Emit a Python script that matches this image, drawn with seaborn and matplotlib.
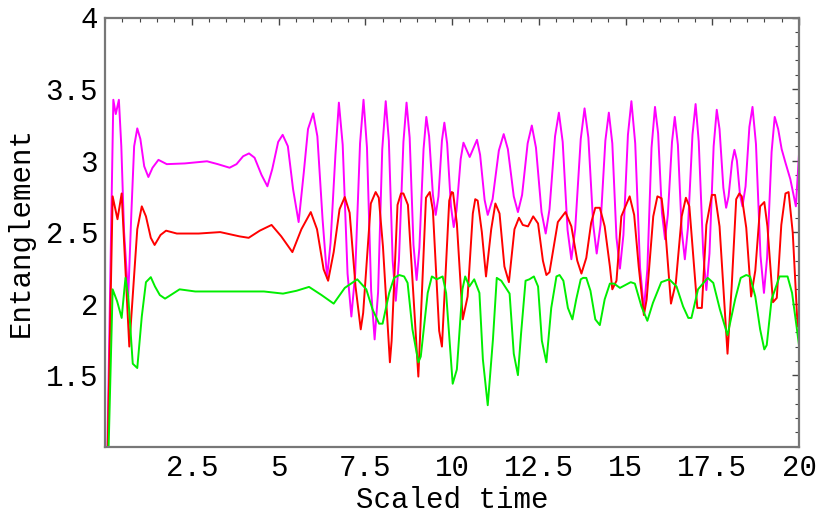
import matplotlib
matplotlib.use("Agg")
import matplotlib.pyplot as plt
from matplotlib.ticker import FixedLocator, MultipleLocator, FuncFormatter
import pandas as pd
import seaborn as sns

# values (scaled time, entanglement)
magenta_t = [0.0, 0.24, 0.31, 0.40, 0.47, 0.55, 0.67, 0.76, 0.84, 0.93, 1.02, 1.13,
             1.25, 1.37, 1.54, 1.78, 2.30, 2.94, 3.25, 3.59, 3.79, 3.98, 4.15, 4.31,
             4.51, 4.68, 4.82, 4.99, 5.12, 5.27, 5.42, 5.58, 5.73, 5.85, 6.00, 6.12,
             6.27, 6.40, 6.50, 6.64, 6.74, 6.85, 6.99, 7.10, 7.21, 7.35, 7.45, 7.55,
             7.67, 7.77, 7.87, 7.99, 8.09, 8.18, 8.29, 8.38, 8.47, 8.60, 8.69, 8.78,
             8.89, 8.98, 9.06, 9.18, 9.26, 9.34, 9.45, 9.53, 9.61, 9.71, 9.78, 9.86,
             9.97, 10.05, 10.13, 10.25, 10.33, 10.51, 10.72, 10.81, 10.94, 11.03, 11.17,
             11.35, 11.49, 11.61, 11.78, 11.90, 12.02, 12.18, 12.30, 12.42, 12.58,
             12.70, 12.81, 12.97, 13.08, 13.19, 13.33, 13.44, 13.55, 13.71, 13.82,
             13.93, 14.07, 14.17, 14.28, 14.42, 14.52, 14.62, 14.74, 14.84, 14.94,
             15.07, 15.17, 15.28, 15.42, 15.53, 15.63, 15.75, 15.85, 15.94, 16.05,
             16.14, 16.22, 16.34, 16.42, 16.51, 16.62, 16.71, 16.80, 16.93, 17.02,
             17.11, 17.24, 17.33, 17.42, 17.54, 17.63, 17.71, 17.82, 17.90, 17.97,
             18.07, 18.14, 18.21, 18.30, 18.37, 18.46, 18.57, 18.66, 18.76, 18.89,
             18.99, 19.08, 19.21, 19.30, 19.40, 19.50, 19.61, 19.75, 19.91, 20.0]
magenta_v = [0.0, 3.425, 3.325, 3.425, 3.10, 2.50, 2.05, 2.636, 3.10, 3.225, 3.15, 2.96,
             2.885, 2.95, 3.005, 2.975, 2.98, 2.995, 2.975, 2.95, 2.975, 3.03, 3.05, 3.02,
             2.90, 2.82, 2.94, 3.13, 3.18, 3.10, 2.80, 2.57, 2.92, 3.22, 3.33, 3.17,
             2.59, 2.18, 2.425, 3.04, 3.405, 3.11, 2.21, 1.91, 2.21, 3.12, 3.425, 3.09,
             2.09, 1.75, 2.08, 3.08, 3.415, 3.14, 2.30, 2.02, 2.30, 3.13, 3.405, 3.16,
             2.41, 2.165, 2.39, 3.08, 3.305, 3.17, 2.76, 2.62, 2.75, 3.14, 3.265, 3.12,
             2.68, 2.535, 2.65, 3.01, 3.125, 3.025, 3.145, 3.04, 2.725, 2.62, 2.73,
             3.07, 3.185, 3.08, 2.75, 2.64, 2.76, 3.12, 3.245, 3.09, 2.64,
             2.49, 2.66, 3.17, 3.335, 3.13, 2.515, 2.31, 2.52, 3.15, 3.365,
             3.16, 2.55, 2.35, 2.55, 3.14, 3.335, 3.12, 2.46, 2.245, 2.48,
             3.18, 3.415, 3.12, 2.25, 1.96, 2.24, 3.09, 3.375, 3.19, 2.635,
             2.45, 2.62, 3.13, 3.305, 3.11, 2.51, 2.31, 2.53, 3.18, 3.395,
             3.135, 2.355, 2.095, 2.35, 3.10, 3.355, 3.22, 2.81, 2.67, 2.75,
             2.99, 3.075, 3.00, 2.76, 2.68, 2.82, 3.235, 3.375, 3.115, 2.335,
             2.075, 2.32, 3.06, 3.305, 3.22, 3.08, 2.985, 2.87, 2.68, 3.045]

red_t = [0.0, 0.22, 0.36, 0.48, 0.70, 0.93, 1.06, 1.18, 1.32, 1.43, 1.60, 1.76, 2.07,
         2.70, 3.32, 3.88, 4.14, 4.46, 4.80, 5.08, 5.40, 5.66, 5.93, 6.11, 6.30, 6.43,
         6.59, 6.76, 6.91, 7.05, 7.22, 7.37, 7.44, 7.66, 7.80, 7.89, 8.01, 8.21,
         8.26, 8.43, 8.53, 8.60, 8.73, 9.03, 9.25, 9.36, 9.45, 9.63, 9.71, 9.92, 9.99,
         10.03, 10.14, 10.31, 10.45, 10.60, 10.67, 10.74, 10.86, 10.98, 11.13, 11.25,
         11.37, 11.51, 11.64, 11.80, 11.93, 12.04, 12.19, 12.34, 12.48, 12.62, 12.72,
         12.81, 13.05, 13.27, 13.44, 13.61, 13.73, 13.87, 14.01, 14.13, 14.26, 14.40,
         14.55, 14.62, 14.74, 14.88, 15.12, 15.25, 15.38, 15.53, 15.61, 15.80, 15.92,
         16.04, 16.14, 16.31, 16.45, 16.62, 16.74, 16.84, 16.96, 17.07, 17.20, 17.33,
         17.49, 17.58, 17.71, 17.94, 18.06, 18.19, 18.28, 18.35, 18.48, 18.62, 18.74,
         18.88, 19.00, 19.09, 19.25, 19.36, 19.49, 19.61, 19.70, 19.82, 19.96, 20.0]
red_v = [0.0, 2.75, 2.59, 2.77, 1.70, 2.52, 2.68, 2.61, 2.46, 2.41, 2.48, 2.51, 2.49,
         2.49, 2.50, 2.47, 2.46, 2.51, 2.55, 2.47, 2.36, 2.52, 2.64, 2.52, 2.24, 2.16,
         2.36, 2.66, 2.745, 2.635, 2.12, 1.82, 1.935, 2.70, 2.78, 2.74, 2.40, 1.59,
         1.74, 2.69, 2.77, 2.77, 2.69, 1.49, 2.74, 2.78, 2.65, 1.81, 1.70, 2.72, 2.78,
         2.775, 2.56, 1.89, 2.05, 2.63, 2.73, 2.72, 2.50, 2.19, 2.52, 2.70,
         2.63, 2.26, 2.15, 2.52, 2.60, 2.55, 2.54, 2.61, 2.56, 2.30, 2.20,
         2.22, 2.57, 2.64, 2.54, 2.30, 2.21, 2.32, 2.565, 2.67, 2.67, 2.54,
         2.26, 2.10, 2.16, 2.61, 2.75, 2.62, 2.26, 1.92, 2.03, 2.61, 2.75,
         2.736, 2.54, 2.00, 2.145, 2.61, 2.74, 2.68, 2.31, 1.97, 1.97, 2.55,
         2.76, 2.76, 2.54, 1.65, 2.12, 2.73, 2.77, 2.75, 2.53, 2.05, 2.23,
         2.68, 2.71, 2.54, 2.01, 2.04, 2.55, 2.77, 2.78, 2.495, 1.84, 1.87]

green_t = [0.0, 0.22, 0.35, 0.48, 0.59, 0.67, 0.80, 0.93, 1.06, 1.18, 1.32, 1.44, 1.58,
           1.73, 1.83, 2.15, 2.60, 4.19, 4.58, 5.13, 5.52, 5.88, 6.24, 6.59, 6.91, 7.27,
           7.53, 7.71, 7.90, 8.00, 8.19, 8.33, 8.48, 8.62, 8.72, 8.86, 9.03, 9.10, 9.30,
           9.42, 9.56, 9.73, 9.83, 10.02, 10.14, 10.30, 10.38, 10.50, 10.64, 10.79, 10.89,
           11.03, 11.18, 11.29, 11.42, 11.66, 11.78, 11.90, 11.99, 12.12, 12.23, 12.36,
           12.48, 12.59, 12.72, 12.86, 13.01, 13.10, 13.21, 13.34, 13.47, 13.58, 13.71,
           13.78, 13.87, 13.99, 14.13, 14.26, 14.40, 14.55, 14.67, 14.84, 15.15, 15.27,
           15.46, 15.63, 15.79, 16.03, 16.26, 16.47, 16.66, 16.81, 16.90, 17.09, 17.37,
           17.53, 17.72, 17.94, 18.16, 18.32, 18.48, 18.59, 18.74, 18.88, 19.00, 19.07,
           19.21, 19.44, 19.67, 19.80, 19.93, 20.0]
green_v = [0.0, 2.10, 2.016, 1.90, 2.18, 2.05, 1.58, 1.55, 1.91, 2.15, 2.185, 2.12, 2.06,
           2.035, 2.05, 2.10, 2.085, 2.085, 2.085, 2.07, 2.09, 2.117, 2.06, 2.0, 2.11, 2.17,
           2.10, 1.96, 1.86, 1.86, 2.075, 2.18, 2.20, 2.19, 2.145, 1.82, 1.59, 1.63, 2.075,
           2.19, 2.17, 2.19, 2.075, 1.44, 1.54, 2.10, 2.19, 2.12, 2.17, 2.075, 1.61,
           1.29, 1.75, 2.18, 2.16, 2.07, 1.65, 1.50, 1.79, 2.16, 2.17, 2.19,
           2.12, 1.74, 1.59, 1.97, 2.19, 2.20, 2.16, 1.97, 1.89, 2.03, 2.17,
           2.18, 2.18, 2.09, 1.89, 1.85, 2.03, 2.14, 2.14, 2.11, 2.15, 2.14,
           1.98, 1.88, 2.005, 2.15, 2.17, 2.12, 1.98, 1.90, 1.90, 2.10, 2.18,
           2.145, 1.96, 1.78, 2.03, 2.18, 2.20, 2.19, 2.05, 1.82, 1.68, 1.71,
           2.03, 2.19, 2.19, 2.075, 1.84, 1.71]

x_ticks = [2.5, 5, 7.5, 10, 12.5, 15, 17.5, 20]
y_ticks = [1.5, 2, 2.5, 3, 3.5, 4]

sns.set_style("white")
plt.rcParams["font.family"] = ["Liberation Mono", "DejaVu Sans Mono"]

fig = plt.figure(figsize=(8.16, 5.13), dpi=100)
ax = fig.add_axes([105 / 816, 1 - 446.7 / 513, 694 / 816, 429.2 / 513])

series = [(magenta_t, magenta_v, "#ff00ff"),
          (red_t, red_v, "#ff0000"),
          (green_t, green_v, "#00ee00")]
for t, v, c in series:
    df = pd.DataFrame({"t": t, "v": v})
    sns.lineplot(data=df, x="t", y="v", color=c, linewidth=1.4,
                 estimator=None, sort=False, ax=ax)

ax.set_xlim(0, 20)
ax.set_ylim(1.0, 4.0)
ax.xaxis.set_major_locator(FixedLocator(x_ticks))
ax.xaxis.set_minor_locator(MultipleLocator(0.5))
ax.yaxis.set_major_locator(FixedLocator(y_ticks))
ax.yaxis.set_minor_locator(MultipleLocator(0.1))
fmt = FuncFormatter(lambda val, pos: "%g" % val)
ax.xaxis.set_major_formatter(fmt)
ax.yaxis.set_major_formatter(fmt)

ax.tick_params(which="both", direction="in", top=True, right=True,
               color="#444444", labelcolor="black", labelsize=21)
ax.tick_params(which="major", length=5, width=1, pad=5)
ax.tick_params(which="minor", length=3, width=0.8)
for side in ax.spines.values():
    side.set_color("#777777")
    side.set_linewidth(1.6)

ax.set_xlabel("Scaled time", fontsize=21, labelpad=3, color="black")
ax.set_ylabel("Entanglement", fontsize=21, labelpad=8, color="black")

fig.savefig("out.png", dpi=100, facecolor="white")
